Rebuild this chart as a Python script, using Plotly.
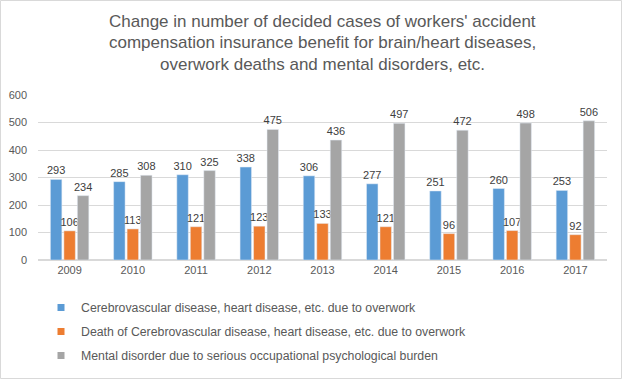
import plotly.graph_objects as go

years = ["2009", "2010", "2011", "2012", "2013", "2014", "2015", "2016", "2017"]
cerebro = [293, 285, 310, 338, 306, 277, 251, 260, 253]
deaths = [106, 113, 121, 123, 133, 121, 96, 107, 92]
mental = [234, 308, 325, 475, 436, 497, 472, 498, 506]

names = [
    "Cerebrovascular disease, heart disease, etc. due to overwork",
    "Death of Cerebrovascular disease, heart disease, etc. due to overwork",
    "Mental disorder due to serious occupational psychological burden",
]
colors = ["#5b9bd5", "#ed7d31", "#a5a5a5"]
series = [cerebro, deaths, mental]
title_lines = [
    "Change in number of decided cases of workers' accident",
    "compensation insurance benefit for brain/heart diseases,",
    "overwork deaths and mental disorders, etc.",
]

FONT = "Liberation Sans, Arial, sans-serif"
TXT = "#595959"

W, H = 622, 379
L, R, T, B = 38, 15, 95, 119
pw, ph = W - L - R, H - T - B

fig = go.Figure()
for i, (nm, vals, c) in enumerate(zip(names, series, colors)):
    fig.add_trace(go.Bar(
        x=years, y=vals, name=nm, marker_color=c,
        text=[str(v) for v in vals], textposition="outside",
        textangle=0, constraintext="none",
        textfont=dict(size=11, color="#404040", family=FONT),
        cliponaxis=False, showlegend=False,
    ))
    # legend entry with a small square marker
    fig.add_trace(go.Scatter(
        x=[None], y=[None], mode="markers", name=nm,
        marker=dict(symbol="square", size=7, color=c),
        legendgroup=f"g{i}", showlegend=True,
    ))

annotations = []
for k, line in enumerate(title_lines):
    annotations.append(dict(
        text=line, xref="paper", yref="paper", showarrow=False,
        x=(322 - L) / pw, xanchor="center",
        y=1 + (T - (21.5 + 21.5 * k)) / ph, yanchor="middle",
        font=dict(size=17, color=TXT, family=FONT),
    ))

fig.update_layout(
    width=W, height=H,
    margin=dict(l=L, r=R, t=T, b=B, autoexpand=False),
    paper_bgcolor="white", plot_bgcolor="white",
    barmode="group", bargap=0.36, bargroupgap=0.15,
    font=dict(family=FONT, color=TXT),
    annotations=annotations,
    xaxis=dict(
        showline=True, linecolor="#d9d9d9", ticks="",
        tickfont=dict(size=11, color=TXT), showgrid=False,
    ),
    yaxis=dict(
        range=[0, 600], dtick=100, showgrid=True, gridcolor="#d9d9d9",
        zeroline=True, zerolinecolor="#d9d9d9", ticks="",
        tickfont=dict(size=11, color=TXT), ticklabelstandoff=10,
    ),
    legend=dict(
        orientation="v", x=(41 - L) / pw, xanchor="left",
        y=-(293 - (T + ph)) / ph, yanchor="top",
        font=dict(size=12.3, color=TXT, family=FONT),
        tracegroupgap=5, bgcolor="rgba(0,0,0,0)", itemwidth=30,
    ),
    showlegend=True,
    shapes=[dict(
        type="rect", xref="paper", yref="paper",
        x0=(0.5 - L) / pw, x1=(W - 0.5 - L) / pw,
        y0=-(B - 0.5) / ph, y1=1 + (T - 0.5) / ph,
        line=dict(color="#d9d9d9", width=1), fillcolor="rgba(0,0,0,0)",
    )],
)

fig.write_html(
    "out.html",
    config={"displayModeBar": False},
    post_script="document.body.style.margin='0';document.body.style.overflow='hidden';",
)
